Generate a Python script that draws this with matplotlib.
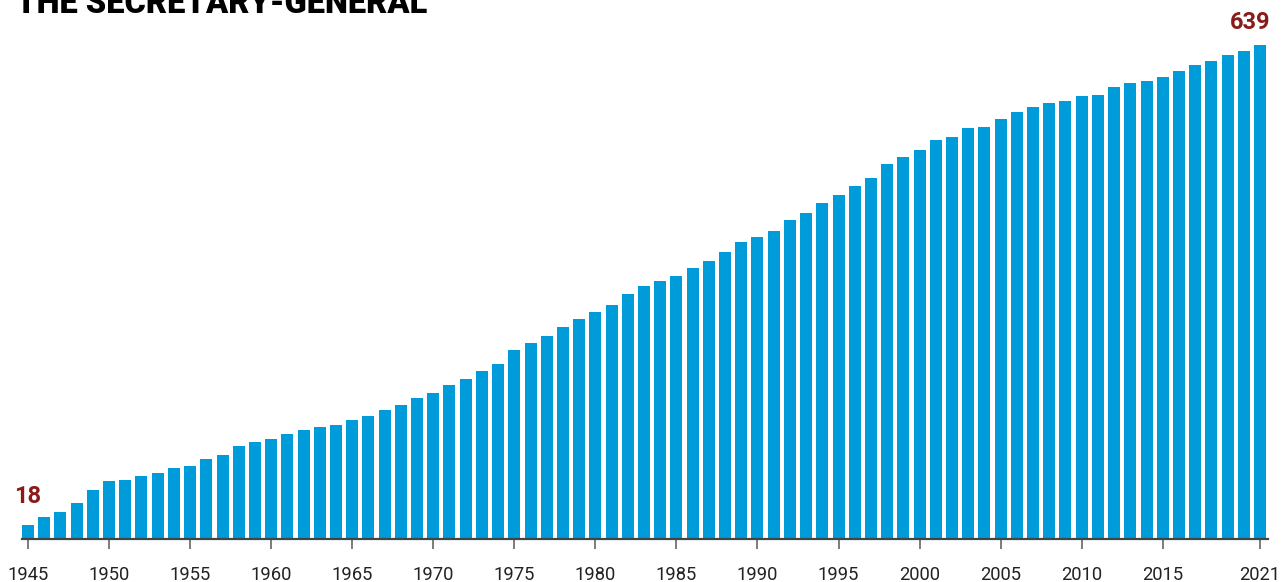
import matplotlib.pyplot as plt
import numpy as np

plt.rcParams['font.family'] = ['Roboto', 'DejaVu Sans']

# Data
years = list(range(1945, 2022))
values = [18, 28, 34, 46, 63, 74, 76, 81, 85, 91,
          94, 103, 108, 120, 125, 129, 135, 140, 145, 147,
          153, 158, 166, 173, 182, 188, 199, 206, 217, 226,
          244, 253, 262, 274, 284, 293, 303, 316, 327, 334,
          340, 350, 360, 371, 384, 391, 398, 413, 422, 435,
          445, 457, 467, 485, 494, 503, 516, 520, 532, 533,
          543, 552, 559, 564, 567, 573, 574, 585, 590, 592,
          598, 605, 613, 619, 626, 631, 639]
tick_years = [1945, 1950, 1955, 1960, 1965, 1970, 1975, 1980, 1985,
              1990, 1995, 2000, 2005, 2010, 2015, 2021]

bar_color = '#009bd9'
label_color = '#8b1a1a'

fig = plt.figure(figsize=(12.87, 5.82), dpi=100)
ax = fig.add_axes([0, (582 - 538.5) / 582, 1, 538.5 / 582])

ax.bar(years, values, width=0.74, color=bar_color, zorder=2)

# pixel mapping: 1945 -> 28px, 2021 -> 1260px
px_per_year = (1260 - 28) / 76
ax.set_xlim(1945 - 28 / px_per_year, 1945 + (1287 - 28) / px_per_year)
ax.set_ylim(0, 538.5 * 1.295)

for s in ['top', 'right', 'left']:
    ax.spines[s].set_visible(False)
ax.spines['bottom'].set_color('#444444')
ax.spines['bottom'].set_linewidth(1.6)
ax.spines['bottom'].set_bounds(1945 - 6 / px_per_year, 2021 + 8 / px_per_year)
ax.set_yticks([])
ax.set_xticks(tick_years)
ax.set_xticklabels([str(y) for y in tick_years])
ax.tick_params(axis='x', length=7.5, width=1.2, color='#666666',
               labelsize=13.2, labelcolor='#222222', pad=12)

ax.annotate(str(values[0]), (years[0], values[0]), xytext=(0, 28),
            textcoords='offset pixels', ha='center', va='center',
            fontsize=17, fontweight='bold', color=label_color)
ax.annotate(str(values[-1]), (years[-1], values[-1]), xytext=(10, 23),
            textcoords='offset pixels', ha='right', va='center',
            fontsize=17, fontweight='bold', color=label_color)

# title sits partly above the canvas, as in the source image
fig.text(16 / 1287, 1 - 13 / 582, 'THE SECRETARY-GENERAL', ha='left',
         va='baseline', fontsize=23.5, fontweight='heavy', color='black')

fig.savefig('out.png', dpi=100)
